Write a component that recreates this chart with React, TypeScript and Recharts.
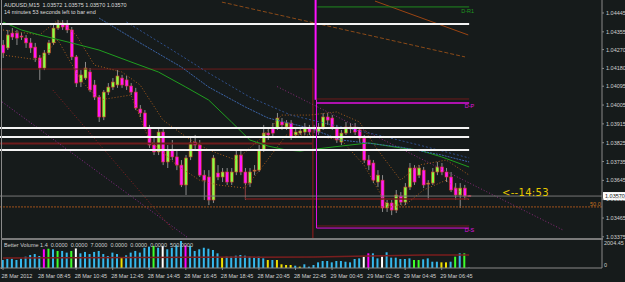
import React from "react";
import {
  ComposedChart,
  Bar,
  Line,
  XAxis,
  YAxis,
  ReferenceLine,
  Cell,
} from "recharts";

// AUDUSD M15, 28 Mar 06:45 -> 29 Mar 08:15
const opens = [
  1.04292, 1.04278, 1.04349, 1.04349, 1.04335, 1.04325, 1.04302, 1.04282, 1.0423, 1.04182,
  1.04254, 1.04302, 1.04373, 1.04397, 1.04388, 1.04364, 1.04235, 1.04115, 1.04134, 1.04163,
  1.04101, 1.04043, 1.03948, 1.04067, 1.04091, 1.04101, 1.04134, 1.04125, 1.04096, 1.04067,
  1.03986, 1.03967, 1.03895, 1.03814, 1.03781, 1.03876, 1.03733, 1.0379, 1.03757, 1.03718,
  1.03623, 1.03757, 1.03828, 1.03814, 1.0367, 1.03661, 1.03551, 1.0368, 1.03661, 1.03685,
  1.03637, 1.03685, 1.03766, 1.03685, 1.03632, 1.0369, 1.03694, 1.0379, 1.03871, 1.03895,
  1.03895, 1.03924, 1.039, 1.03919, 1.03862, 1.03871, 1.03876, 1.03895, 1.03891, 1.03876,
  1.039, 1.03948, 1.03943, 1.03891, 1.03828, 1.03871, 1.039, 1.039, 1.03886, 1.03847,
  1.03742, 1.03728, 1.03637, 1.03646, 1.03513, 1.03537, 1.03503, 1.0357, 1.03541, 1.03613,
  1.03704, 1.0367, 1.03694, 1.03627, 1.03632, 1.03685, 1.03709, 1.03685, 1.03661, 1.03608,
  1.03575, 1.03608, 1.03572,
];
const highs = [
  1.04316, 1.04364, 1.04373, 1.04364, 1.04349, 1.0434, 1.04325, 1.04302, 1.04244, 1.04268,
  1.04316, 1.04397, 1.04411, 1.04411, 1.04411, 1.04378, 1.04244, 1.04172, 1.04211, 1.04182,
  1.04125, 1.04053, 1.04077, 1.0411, 1.04134, 1.04172, 1.04149, 1.04144, 1.0411, 1.04087,
  1.04005, 1.03981, 1.0391, 1.03847, 1.03895, 1.03895, 1.03814, 1.03838, 1.0379, 1.03742,
  1.03766, 1.03847, 1.03862, 1.03838, 1.03694, 1.03694, 1.03766, 1.03718, 1.03704, 1.03704,
  1.03704, 1.0379, 1.0379, 1.03704, 1.03704, 1.03718, 1.03814, 1.0391, 1.03895, 1.03919,
  1.03967, 1.03943, 1.03933, 1.03933, 1.03895, 1.039, 1.03919, 1.0391, 1.0391, 1.03919,
  1.03967, 1.03967, 1.03957, 1.0391, 1.03886, 1.03924, 1.03919, 1.03919, 1.039, 1.03862,
  1.03766, 1.03742, 1.03694, 1.0367, 1.03551, 1.03551, 1.03599, 1.03589, 1.03632, 1.03728,
  1.03718, 1.03718, 1.03709, 1.03646, 1.03704, 1.03733, 1.03728, 1.03704, 1.03685, 1.03632,
  1.03632, 1.03623, 1.03575,
];
const lows = [
  1.0423, 1.04268, 1.04316, 1.04292, 1.04316, 1.04278, 1.04254, 1.04211, 1.04125, 1.04172,
  1.04244, 1.04292, 1.04364, 1.04364, 1.04349, 1.0422, 1.04091, 1.04091, 1.04125, 1.04067,
  1.04029, 1.03924, 1.03933, 1.04053, 1.04077, 1.04087, 1.04087, 1.04077, 1.04053, 1.03981,
  1.03948, 1.03895, 1.038, 1.03766, 1.03766, 1.03718, 1.03704, 1.03742, 1.03694, 1.03613,
  1.03575, 1.03742, 1.0379, 1.03661, 1.03551, 1.03527, 1.03537, 1.03646, 1.03637, 1.03623,
  1.03623, 1.0367, 1.0367, 1.03551, 1.03613, 1.0367, 1.03685, 1.03781, 1.03838, 1.03852,
  1.03886, 1.03886, 1.03886, 1.03838, 1.03847, 1.03862, 1.03862, 1.03862, 1.03871, 1.03862,
  1.03886, 1.0391, 1.03886, 1.03824, 1.03814, 1.03862, 1.03871, 1.03862, 1.03828, 1.03728,
  1.03694, 1.03632, 1.03613, 1.03494, 1.03494, 1.03479, 1.03489, 1.03527, 1.03527, 1.03599,
  1.03623, 1.03656, 1.03608, 1.03551, 1.03623, 1.0367, 1.0367, 1.03637, 1.03589, 1.03551,
  1.03513, 1.03551, 1.0357,
];
const closes = [
  1.04254, 1.0434, 1.0433, 1.04325, 1.0433, 1.04302, 1.04278, 1.0423, 1.04182, 1.04254,
  1.04302, 1.04373, 1.04397, 1.04378, 1.04364, 1.04235, 1.0411, 1.04149, 1.04182, 1.04077,
  1.04043, 1.03948, 1.04067, 1.04091, 1.04115, 1.04144, 1.04101, 1.04096, 1.04067, 1.03991,
  1.03967, 1.039, 1.03814, 1.03781, 1.03876, 1.03733, 1.0379, 1.03757, 1.03718, 1.03623,
  1.03752, 1.03824, 1.03814, 1.0367, 1.03646, 1.03551, 1.03752, 1.03661, 1.03685, 1.03637,
  1.03685, 1.03766, 1.03685, 1.03632, 1.03685, 1.03694, 1.0379, 1.03871, 1.03862, 1.03871,
  1.03943, 1.0391, 1.03919, 1.03852, 1.03876, 1.03881, 1.039, 1.03876, 1.03886, 1.039,
  1.03948, 1.03933, 1.039, 1.03838, 1.03871, 1.039, 1.03891, 1.03876, 1.03847, 1.03742,
  1.03718, 1.03646, 1.0367, 1.03513, 1.03537, 1.03503, 1.03575, 1.03541, 1.03613, 1.03704,
  1.03637, 1.03704, 1.03623, 1.03632, 1.03685, 1.03709, 1.03685, 1.03661, 1.03599, 1.03575,
  1.03608, 1.0357, 1.0357,
];

// Better Volume histogram
const volumes = [
  573, 645, 660, 573, 670, 810, 930, 1000, 860, 1340,
  1380, 1340, 1220, 1220, 1100, 1220, 1400, 1050, 1150, 1000,
  1150, 1220, 1000, 860, 1100, 1000, 740, 910, 1100, 1220,
  1100, 1450, 1530, 1580, 1450, 1580, 1340, 1450, 1620, 1930,
  1620, 1580, 1220, 1340, 1450, 1380, 1290, 1050, 765, 810,
  810, 880, 930, 880, 810, 740, 810, 690, 573, 573,
  573, 265, 215, 215, 165, 95, 265, 95, 215, 405,
  500, 500, 405, 500, 500, 450, 405, 645, 690, 810,
  1050, 1050, 690, 810, 1125, 740, 740, 645, 645, 690,
  573, 573, 620, 690, 450, 450, 405, 405, 450, 810,
  1050, 1050, 20,
];
const volumeKinds = [
  "c", "c", "c", "c", "c", "c", "c", "c", "c", "m",
  "g", "c", "g", "c", "c", "g", "w", "c", "c", "c",
  "c", "c", "c", "c", "c", "c", "y", "c", "c", "c",
  "c", "c", "c", "g", "c", "w", "c", "c", "c", "c",
  "m", "c", "c", "c", "c", "c", "c", "c", "y", "c",
  "c", "c", "c", "c", "c", "c", "c", "c", "y", "c",
  "y", "y", "y", "y", "c", "y", "c", "c", "c", "c",
  "c", "c", "c", "c", "c", "c", "c", "c", "c", "w",
  "m", "c", "c", "w", "c", "c", "c", "c", "c", "c",
  "g", "g", "c", "c", "c", "c", "y", "y", "c", "g",
  "c", "g", "c",
];
const kindColors: Record<string, string> = {
  c: "#35b8ec",
  g: "#3dff2a",
  w: "#ffffff",
  y: "#f0e000",
  m: "#ff00ff",
};

// indicator lines (bar index, value)
const greenMa = [
  [0, 1.04402], [4, 1.04364], [8, 1.0434], [15, 1.04302], [21, 1.04268], [28, 1.04211],
  [34, 1.04163], [40, 1.04091], [45, 1.04029], [50, 1.03924], [54, 1.03838], [58, 1.03809],
  [62, 1.0379], [65, 1.03785], [72, 1.03804], [80, 1.03824], [87, 1.038], [91, 1.0379],
  [96, 1.03757], [102, 1.03709],
];
const blueMaA = [
  [21, 1.04421], [30, 1.04302], [39, 1.04187], [45, 1.04091], [53, 1.03996], [58, 1.03943],
  [67, 1.03895], [74, 1.03838], [87, 1.03804], [96, 1.03766], [102, 1.03733],
];
const blueMaB = [
  [27, 1.04402], [37, 1.04268], [45, 1.04158], [54, 1.04043], [63, 1.03957], [72, 1.0391],
  [82, 1.03862], [91, 1.03814], [102, 1.03752],
];
const upperBand = [
  [0, 1.04364], [8, 1.0434], [12, 1.04411], [16, 1.0434], [20, 1.04196], [26, 1.04163],
  [30, 1.04101], [35, 1.03933], [41, 1.03838], [45, 1.0379], [51, 1.03742], [56, 1.03838],
  [61, 1.03957], [67, 1.03957], [73, 1.03972], [78, 1.03924], [82, 1.0379], [87, 1.03646],
  [91, 1.03718], [97, 1.03742], [102, 1.0367],
];
const lowerBand = [
  [0, 1.04244], [8, 1.0422], [12, 1.04316], [17, 1.04125], [21, 1.04029], [28, 1.04053],
  [32, 1.03838], [38, 1.03718], [43, 1.03646], [47, 1.03623], [53, 1.03608], [57, 1.03718],
  [62, 1.03862], [67, 1.03862], [74, 1.03838], [79, 1.03718], [84, 1.03527], [88, 1.03527],
  [92, 1.03599], [97, 1.03646], [102, 1.03551],
];
const volumeAvg = [
  [0, 716], [30, 760], [68, 788], [80, 860], [92, 930], [102, 930],
];

const priceTicks = [
  1.04445, 1.04355, 1.0427, 1.0418, 1.04095, 1.04005, 1.03915, 1.03825, 1.03735,
  1.03645, 1.03555, 1.03465, 1.03375,
];
const timeTicks = [0, 8, 16, 24, 32, 40, 48, 56, 64, 72, 80, 88, 96];
const timeLabels = [
  "28 Mar 2012", "28 Mar 08:45", "28 Mar 10:45", "28 Mar 12:45", "28 Mar 14:45",
  "28 Mar 16:45", "28 Mar 18:45", "28 Mar 20:45", "28 Mar 22:45", "29 Mar 00:45",
  "29 Mar 02:45", "29 Mar 04:45", "29 Mar 06:45",
];

// levels and trend lines: [x1, y1, x2, y2] in bar index / price
const whiteLevels = [1.04392, 1.03895, 1.03852, 1.0379];
const trendLines = [
  { p: [47.9, 1.04497, 101.1, 1.04235], color: "#8a4a18", dash: "4 2" },
  { p: [81.4, 1.04502, 101.8, 1.0434], color: "#9a4412", dash: "" },
  { p: [-0.2, 1.0402, 40.5, 1.0337], color: "#8a2a8a", dash: "1 2" },
  { p: [10.9, 1.04077, 37.2, 1.03408], color: "#8a2222", dash: "1 2" },
  { p: [60, 1.04093, 122.5, 1.03408], color: "#8a2a7a", dash: "1 2" },
];

const X_DOMAIN: [number, number] = [-0.66, 131.07];
const FONT = "'Liberation Sans', Arial, sans-serif";
const AXIS_GREY = "#8a8a8a";

const bars = opens.map((o, i) => ({
  i,
  o,
  h: highs[i],
  l: lows[i],
  c: closes[i],
  v: volumes[i],
}));

const toRows = (pts: number[][]) => pts.map(([i, v]) => ({ i, v }));

function Candle(props: any) {
  const { x, y, width, height, payload } = props;
  const { o, h, l, c } = payload;
  const top = Math.min(y, y + height);
  const span = Math.abs(height);
  const py = (p: number) => top + ((h - p) / (h - l || 1)) * span;
  const cx = x + width / 2;
  const bodyTop = py(Math.max(o, c));
  const bodyBot = py(Math.min(o, c));
  const up = c >= o;
  return (
    <g>
      <line x1={cx} x2={cx} y1={top} y2={top + span} stroke="#8c8c8c" strokeWidth={1} />
      <rect
        x={x}
        y={bodyTop}
        width={width}
        height={Math.max(1, bodyBot - bodyTop)}
        fill={up ? "#86ff45" : "#ff1aff"}
        stroke="#d23a2a"
        strokeWidth={0.6}
      />
    </g>
  );
}

// right-axis ticks come in 8px right of the axis line
function PriceTick(props: any) {
  const { x, y, payload } = props;
  return (
    <g>
      <line x1={x - 8} x2={x - 6} y1={y} y2={y} stroke={AXIS_GREY} />
      <text x={x - 4} y={y + 2} fontSize={5.5} fill="#d0d0d0" fontFamily={FONT}>
        {payload.value.toFixed(5)}
      </text>
    </g>
  );
}

function TimeTick(props: any) {
  const { x, y, index } = props;
  return (
    <g>
      <line x1={x} x2={x} y1={y - 8} y2={y - 6} stroke={AXIS_GREY} />
      <text x={x - 1.5} y={y + 2} fontSize={5.5} fill="#d0d0d0" fontFamily={FONT}>
        {timeLabels[index]}
      </text>
    </g>
  );
}

function VolTick(props: any) {
  const { x, y, payload } = props;
  return (
    <text
      x={x - 6}
      y={payload.value > 0 ? y + 5 : y - 1}
      fontSize={5.5}
      fill="#d0d0d0"
      fontFamily={FONT}
    >
      {payload.value > 0 ? payload.value.toFixed(2) : "0"}
    </text>
  );
}

const levelLabel = (text: string, color: string, dy: number) => (p: any) => {
  const vb = p.viewBox;
  return (
    <text
      x={vb.x + vb.width + 5}
      y={vb.y + dy}
      textAnchor="end"
      fontSize={5.5}
      fill={color}
      fontFamily={FONT}
    >
      {text}
    </text>
  );
};

function BidLabel(p: any) {
  const vb = p.viewBox;
  const right = vb.x + vb.width;
  return (
    <g>
      <rect x={right + 1} y={vb.y - 4} width={22} height={8} fill="#ffffff" />
      <text x={right + 3} y={vb.y + 2} fontSize={5.5} fill="#000" fontFamily={FONT}>
        {closes[closes.length - 1].toFixed(5)}
      </text>
    </g>
  );
}

function FiboLabel(p: any) {
  const vb = p.viewBox;
  return (
    <text x={vb.x + vb.width - 12} y={vb.y - 1} fontSize={5.5} fill="#c87020" fontFamily={FONT}>
      50.0
    </text>
  );
}

const seg = (x1: number, y1: number, x2: number, y2: number) => [
  { x: x1, y: y1 },
  { x: x2, y: y2 },
];

const noDots = { dot: false, activeDot: false, isAnimationActive: false } as const;

export default function App() {
  const last = bars.length - 1;
  const lineEnd = last;
  return (
    <div
      style={{
        position: "absolute",
        left: 0,
        top: 0,
        width: 625,
        height: 282,
        background: "#161b1b",
        overflow: "hidden",
        fontFamily: FONT,
      }}
    >
      <div style={{ position: "absolute", left: 0, top: 0 }}>
        <ComposedChart width={625} height={242} data={bars} margin={{ top: 0, right: 0, bottom: 4, left: 0 }}>
          <XAxis type="number" dataKey="i" domain={X_DOMAIN} hide allowDataOverflow />
          <YAxis
            orientation="right"
            width={23}
            domain={[1.033695, 1.045071]}
            ticks={priceTicks}
            interval={0}
            tick={<PriceTick />}
            tickLine={false}
            axisLine={{ stroke: AXIS_GREY }}
            allowDataOverflow
          />
          <ReferenceLine segment={seg(-1, 1.04177, 67.8, 1.04177)} stroke="#6e1c1c" strokeWidth={1} ifOverflow="hidden" />
          <ReferenceLine segment={seg(67.8, 1.04177, 67.8, 1.0336)} stroke="#6e1c1c" strokeWidth={1.5} ifOverflow="hidden" />
          <ReferenceLine segment={seg(-1, 1.03821, 67.8, 1.03821)} stroke="#6e1c1c" strokeWidth={2} ifOverflow="hidden" />
          <ReferenceLine segment={seg(53, 1.03623, 53, 1.03556)} stroke="#6e1c1c" strokeWidth={1} ifOverflow="hidden" />
          <ReferenceLine segment={seg(53, 1.03556, lineEnd, 1.03556)} stroke="#6e1c1c" strokeWidth={1.5} ifOverflow="hidden" />
          <ReferenceLine segment={seg(68.6, 1.04034, lineEnd, 1.04034)} stroke="#6e1c1c" strokeWidth={1} ifOverflow="hidden" />
          <ReferenceLine segment={seg(68.6, 1.03427, lineEnd, 1.03427)} stroke="#6e1c1c" strokeWidth={1} ifOverflow="hidden" />
          {trendLines.map((t, k) => (
            <ReferenceLine
              key={`t${k}`}
              segment={seg(t.p[0], t.p[1], t.p[2], t.p[3])}
              stroke={t.color}
              strokeDasharray={t.dash || undefined}
              strokeWidth={1}
              ifOverflow="hidden"
            />
          ))}
          <ReferenceLine
            y={1.03518}
            stroke="#a0521a"
            strokeDasharray="2 1"
            strokeWidth={1}
            label={FiboLabel}
          />
          <ReferenceLine
            y={closes[last]}
            stroke="#777777"
            strokeWidth={1}
            label={BidLabel}
          />
          <Line data={toRows(upperBand)} dataKey="v" stroke="#a85c1c" strokeDasharray="1 2" strokeWidth={1} {...noDots} />
          <Line data={toRows(lowerBand)} dataKey="v" stroke="#a85c1c" strokeDasharray="1 2" strokeWidth={1} {...noDots} />
          <Line data={toRows(greenMa)} dataKey="v" stroke="#1f9e1f" strokeWidth={1} {...noDots} />
          <Line data={toRows(blueMaA)} dataKey="v" stroke="#3b64a8" strokeDasharray="2 1" strokeWidth={1} {...noDots} />
          <Line data={toRows(blueMaB)} dataKey="v" stroke="#2f4f8a" strokeDasharray="2 2" strokeWidth={1} {...noDots} />
          <Bar
            dataKey={(d: any) => [d.l, d.h]}
            barSize={3}
            shape={<Candle />}
            isAnimationActive={false}
          />
          {whiteLevels.map((p, k) => (
            <ReferenceLine
              key={`w${k}`}
              segment={seg(-1, p, lineEnd, p)}
              stroke="#f4f4f4"
              strokeWidth={2}
              ifOverflow="hidden"
            />
          ))}
          <ReferenceLine
            segment={seg(68.8, 1.04474, lineEnd, 1.04474)}
            stroke="#1f8a1f"
            strokeWidth={1}
            ifOverflow="hidden"
            label={levelLabel("D-R1", "#1f9a1f", 6)}
          />
          <ReferenceLine
            segment={seg(68.6, 1.04015, lineEnd, 1.04015)}
            stroke="#e010e0"
            strokeWidth={1.5}
            ifOverflow="hidden"
            label={levelLabel("D-P", "#e010e0", 5)}
          />
          <ReferenceLine
            segment={seg(68.6, 1.03417, lineEnd, 1.03417)}
            stroke="#e010e0"
            strokeWidth={1}
            ifOverflow="hidden"
            label={levelLabel("D-S", "#e010e0", 4)}
          />
          <ReferenceLine segment={seg(68.4, 1.0451, 68.4, 1.0403)} stroke="#ff10ff" strokeWidth={2} ifOverflow="hidden" />
          <ReferenceLine segment={seg(68.6, 1.0403, 68.6, 1.03417)} stroke="#e010e0" strokeWidth={1} ifOverflow="hidden" />
        </ComposedChart>
      </div>

      <div style={{ position: "absolute", left: 0, top: 240 }}>
        <ComposedChart width={625} height={42} data={bars} margin={{ top: 0, right: 0, bottom: 0, left: 0 }}>
          <XAxis
            type="number"
            dataKey="i"
            domain={X_DOMAIN}
            ticks={timeTicks}
            interval={0}
            height={14}
            tick={<TimeTick />}
            tickLine={false}
            axisLine={{ stroke: AXIS_GREY }}
            allowDataOverflow
          />
          <YAxis
            orientation="right"
            width={23}
            domain={[0, 2004.45]}
            ticks={[0, 2004.45]}
            interval={0}
            tick={<VolTick />}
            tickLine={false}
            axisLine={{ stroke: AXIS_GREY }}
            allowDataOverflow
          />
          <Bar dataKey="v" barSize={2} isAnimationActive={false}>
            {bars.map((b, k) => (
              <Cell key={k} fill={kindColors[volumeKinds[k]]} />
            ))}
          </Bar>
          <Line
            data={toRows(volumeAvg)}
            dataKey="v"
            stroke="#7a1e1e"
            strokeWidth={1.5}
            {...noDots}
          />
        </ComposedChart>
      </div>

      {/* frame */}
      <div style={{ position: "absolute", left: 1, top: 0, width: 1, height: 269, background: AXIS_GREY }} />
      <div style={{ position: "absolute", left: 1, top: 238, width: 602, height: 2, background: "#7a7a7a" }} />

      {/* texts */}
      <div style={{ position: "absolute", left: 4, top: 2, fontSize: 5.5, color: "#dcdcdc", lineHeight: "7px", whiteSpace: "pre" }}>
        {"AUDUSD,M15  1.03572 1.03575 1.03570 1.03570\n14 minutes 53 seconds left to bar end"}
      </div>
      <div style={{ position: "absolute", left: 502, top: 187, fontSize: 10, color: "#e6c800", fontFamily: "'DejaVu Sans', sans-serif", letterSpacing: 0.3 }}>
        {"<--14:53"}
      </div>
      <div style={{ position: "absolute", left: 4, top: 242, fontSize: 5.5, color: "#d0d0d0", whiteSpace: "pre" }}>
        {"Better Volume 1.4  0.0000  0.0000  7.0000  0.0000  0.0000  0.0000  500.0000"}
      </div>
    </div>
  );
}
